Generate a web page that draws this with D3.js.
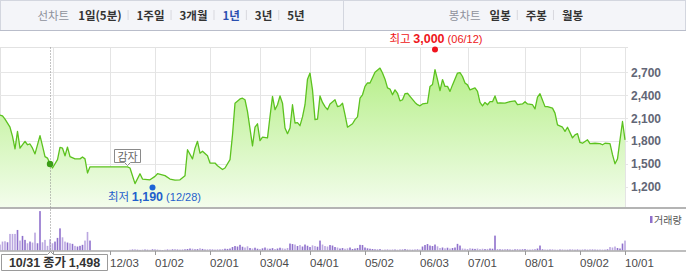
<!DOCTYPE html>
<html>
<head>
<meta charset="utf-8">
<script src="https://cdn.jsdelivr.net/npm/d3@7/dist/d3.min.js"></script>
<style>
body{margin:0;background:#fff;}
svg{display:block;font-family:"Noto Sans CJK KR","Liberation Sans",sans-serif;}
</style>
</head>
<body>
<div class="c_chart"></div>
<script>
/* DATA
------------------------------------------------------ */
// trading-day index (0 = first day shown) and closing price at that day
const priceDays = [0,1,2,4,5,6,7,8,10,11,12,13,14,16,17,18,19,20,21,23,24,25,26,27,28,30,32,33,34,35,36,51,52,54,56,57,60,62,63,66,68,70,72,74,75,77,78,79,80,81,83,84,86,87,89,90,92,93,94,96,97,98,99,101,102,103,104,105,107,108,109,110,111,112,113,114,115,116,117,118,119,120,121,122,123,124,125,126,127,128,129,130,131,132,134,135,136,137,138,139,141,142,143,144,145,146,147,148,150,152,153,154,155,156,157,158,159,160,161,162,163,164,166,167,168,169,171,172,173,174,175,176,177,178,179,180,181,183,184,185,186,187,188,190,191,192,193,194,195,196,197,198,199,200,202,204,206,207,209,210,211,213,214,215,216,218,219,221,222,223,225,226,227,229,230,231,232,233,235,236,238,240,241,242,244,245,246,247,248,249,250];
const priceCloses = [2140,2130,2085,1980,1860,1695,1925,1705,1795,1750,1760,1705,1630,1870,1735,1595,1575,1498,1445,1555,1715,1705,1605,1720,1595,1565,1565,1590,1565,1380,1460,1460,1445,1240,1370,1300,1290,1335,1370,1345,1300,1285,1290,1345,1685,1565,1705,1795,1640,1665,1605,1510,1510,1475,1425,1445,1555,1880,2295,2350,2360,2340,2185,1735,1980,2025,1805,1850,1840,2120,2385,2210,2275,2390,2295,1970,1895,1970,2275,2035,2040,2000,2115,2275,2610,2690,2470,2080,2085,2390,2305,2250,2210,2285,2340,2250,2260,2295,2145,1980,2025,2080,2115,2360,2405,2515,2560,2560,2700,2755,2690,2610,2495,2480,2405,2470,2425,2325,2340,2420,2425,2385,2305,2275,2260,2285,2295,2515,2540,2735,2605,2460,2605,2515,2515,2450,2535,2690,2695,2645,2560,2535,2470,2495,2450,2305,2260,2305,2275,2315,2315,2390,2295,2300,2295,2315,2325,2275,2285,2315,2285,2275,2220,2375,2420,2250,2250,2230,2165,2010,1980,1925,1980,1840,1880,1895,1780,1770,1815,1765,1770,1765,1750,1770,1765,1620,1500,1565,1815,2055,1815];

// daily volume (thousand shares), one value per trading day 0..250
const volumes = [60,90,93,83,167,167,167,207,100,147,107,73,90,80,180,73,397,83,107,47,113,73,90,127,223,133,90,80,73,67,47,40,47,57,100,187,100,
  0,0,0,0,0,0,0,0,0,0,0,0,0,0,0,
  8,10,12,8,6,9,10,8,7,12,10,8,6,5,8,10,9,12,14,10,8,9,12,
  15,20,18,12,14,22,16,10,12,14,10,8,12,10,14,18,16,20,
  35,45,40,57,38,30,42,
  25,20,28,18,15,22,30,20,18,24,15,20,28,22,18,25,
  70,65,60,45,
  55,40,60,48,35,52,45,38,100,
  60,45,40,55,50,35,30,
  20,25,18,22,30,15,20,25,57,55,30,22,18,15,
  12,10,14,8,10,12,9,11,10,8,12,10,14,9,10,8,12,15,10,
  40,55,65,50,45,60,42,
  25,30,22,28,20,25,30,
  67,50,
  20,18,15,22,18,16,20,15,18,14,16,20,18,
  150,
  15,12,10,14,12,10,8,12,15,10,12,14,10,8,12,15,20,
  50,
  12,10,8,10,12,9,8,10,11,9,8,10,12,8,10,9,11,10,8,12,10,9,8,10,9,8,12,
  35,30,40,25,20,70,100];

const tickDays = [21,44,62,84,104,124,146,168,187,210,232,250];
const tickLabels = ["11/01","12/03","01/02","02/01","03/04","04/01","05/02","06/03","07/01","08/01","09/02","10/01"];
const priceTicks = [1200,1500,1800,2100,2400,2700];

const periodLabels = ["1일(5분)","1주일","3개월","1년","3년","5년"];
const candleLabels = ["일봉","주봉","월봉"];

const highDay = 174, highValue = 3000, highDate = "06/12";
const lowDay = 61, lowValue = 1190, lowDate = "12/28";
const cursorDay = 20, cursorValue = 1498, cursorDate = "10/31";
const noteDay = 51, noteText = "감자";

/* SVG
------------------------------------------------------ */
const width = 686, height = 275;
const svg = d3.select(".c_chart").append("svg")
	.attr("width", width)
	.attr("height", height);

const fmt = d3.format(",");

const x = d3.scaleLinear().domain([0, 250]).range([0, 625]);
const y = d3.scaleLinear().domain([1200, 2700]).range([186.7, 72.3]);
const yv = d3.scaleLinear().domain([0, 400]).range([250.5, 210.8]);
const plotTop = 47.5, plotBottom = 207, plotRight = 628;
const boxRight = 107.5;

/* HEADER */
svg.append("rect")
	.attr("x", 0.5).attr("y", 0.5).attr("width", width - 1).attr("height", 30)
	.attr("fill", "#f4f5f9").attr("stroke", "#d3d6df");
svg.append("line")
	.attr("x1", 0).attr("x2", width).attr("y1", 30.5).attr("y2", 30.5)
	.attr("stroke", "#b9bdca");
svg.append("line")
	.attr("x1", 343.5).attr("x2", 343.5).attr("y1", 1).attr("y2", 30)
	.attr("stroke", "#d3d6df");

function menu(title, labels, selected, center) {
	const g = svg.append("g");
	let cx = 0;
	const t = g.append("text").attr("x", cx).attr("y", 19.5)
		.attr("font-size", 11.5).attr("fill", "#8f929c").text(title);
	cx += t.node().getComputedTextLength() + 9;
	labels.forEach(function(l, i) {
		if (i > 0) {
			g.append("line").attr("x1", cx - 8.5).attr("x2", cx - 8.5)
				.attr("y1", 10).attr("y2", 20).attr("stroke", "#d8d8de");
		}
		const tt = g.append("text").attr("x", cx).attr("y", 19.5)
			.attr("font-size", 11.5).attr("font-weight", "bold")
			.attr("fill", l === selected ? "#2a4fb0" : "#333")
			.text(l);
		cx += tt.node().getComputedTextLength() + 15;
	});
	const w = cx - 15;
	g.attr("transform", "translate(" + (center - w / 2) + ",0)");
}
menu("선차트", periodLabels, "1년", 171);
menu("봉차트", candleLabels, null, 516);

/* GRID */
const defs = svg.append("defs");
const grad = defs.append("linearGradient").attr("id", "fillG")
	.attr("gradientUnits", "userSpaceOnUse")
	.attr("x1", 0).attr("x2", 0).attr("y1", 60).attr("y2", plotBottom);
grad.append("stop").attr("offset", 0).attr("stop-color", "#b3ee84");
grad.append("stop").attr("offset", 1).attr("stop-color", "#f3fdec");

svg.append("line").attr("x1", 0).attr("x2", plotRight)
	.attr("y1", plotTop).attr("y2", plotTop).attr("stroke", "#e2e2e2");
svg.append("line").attr("x1", 0.5).attr("x2", 0.5)
	.attr("y1", plotTop).attr("y2", plotBottom).attr("stroke", "#e2e2e2");

svg.append("g").selectAll("line")
	.data(priceTicks).enter().append("line")
	.attr("x1", 0).attr("x2", plotRight)
	.attr("y1", d => Math.round(y(d)) + 0.5).attr("y2", d => Math.round(y(d)) + 0.5)
	.attr("stroke", "#e6e6e6");

svg.append("g").selectAll("line")
	.data(tickDays).enter().append("line")
	.attr("x1", d => Math.round(x(d)) + 0.5).attr("x2", d => Math.round(x(d)) + 0.5)
	.attr("y1", plotTop).attr("y2", plotBottom)
	.attr("stroke", "#e4e4e4");

/* AREA + LINE */
const pts = priceDays.map((d, i) => [d, priceCloses[i]]);
svg.append("path")
	.datum(pts)
	.attr("d", d3.area().x(d => x(d[0])).y0(plotBottom).y1(d => y(d[1])))
	.attr("fill", "url(#fillG)");
svg.append("path")
	.datum(pts)
	.attr("d", d3.line().x(d => x(d[0])).y(d => y(d[1])))
	.attr("fill", "none").attr("stroke", "#5cc21f").attr("stroke-width", 1.3)
	.attr("stroke-linejoin", "round");

/* Y AXIS LABELS */
svg.append("g").selectAll("text")
	.data(priceTicks).enter().append("text")
	.attr("x", 631).attr("y", d => y(d) + 4.5)
	.attr("font-family", "'Liberation Sans',sans-serif")
	.attr("font-size", 12).attr("font-weight", "bold")
	.attr("fill", "#626676")
	.text(d => fmt(d));

/* SEPARATORS */
svg.append("line").attr("x1", 0).attr("x2", width)
	.attr("y1", 208).attr("y2", 208).attr("stroke", "#b4b4b4").attr("stroke-width", 2);

/* VOLUME */
function priceCloseAt(day) {
	// closing price at a day, taken from the last listed day not after it
	let v = priceCloses[0];
	for (let i = 0; i < priceDays.length && priceDays[i] <= day; i++) v = priceCloses[i];
	return v;
}

svg.append("g").selectAll("rect")
	.data(volumes).enter().append("rect")
	.attr("x", (d, i) => x(i) - 0.8)
	.attr("width", 1.6)
	.attr("y", d => yv(d))
	.attr("height", d => yv(0) - yv(d))
	.attr("fill", (d, i) => i > 0 && priceCloseAt(i) >= priceCloseAt(i - 1) ? "#8f70cc" : "#bba7e0");

svg.append("line").attr("x1", 0).attr("x2", width)
	.attr("y1", 251).attr("y2", 251).attr("stroke", "#a8a8a8").attr("stroke-width", 1.5);

svg.append("g").selectAll("line")
	.data(tickDays).enter().append("line")
	.attr("x1", d => Math.round(x(d)) + 0.5).attr("x2", d => Math.round(x(d)) + 0.5)
	.attr("y1", 251).attr("y2", 255)
	.attr("stroke", "#999");

// labels hidden behind the close-price box are not drawn
svg.append("g").selectAll("text")
	.data(tickDays.filter(d => x(d) > boxRight)).enter().append("text")
	.attr("x", d => Math.round(x(d)))
	.attr("y", 266.5)
	.attr("font-family", "'Liberation Sans',sans-serif")
	.attr("font-size", 11.5).attr("fill", "#4a4a4a")
	.text(d => tickLabels[tickDays.indexOf(d)]);

svg.append("rect").attr("x", 650).attr("y", 216).attr("width", 2.5).attr("height", 7)
	.attr("fill", "#8f70cc");
svg.append("text").attr("x", 654).attr("y", 223.5)
	.attr("font-size", 10).attr("fill", "#555").text("거래량");

/* HIGH / LOW */
svg.append("circle").attr("cx", x(highDay)).attr("cy", y(highValue)).attr("r", 3)
	.attr("fill", "#f0141e");
const ht = svg.append("text").attr("x", x(highDay) + 1).attr("y", 42.5)
	.attr("text-anchor", "middle").attr("font-size", 11.5).attr("fill", "#ee1620");
ht.append("tspan").text("최고 ");
ht.append("tspan").attr("font-weight", "bold").attr("font-family", "'Liberation Sans',sans-serif").attr("font-size", 12.5).text(fmt(highValue));
ht.append("tspan").attr("font-family", "'Liberation Sans',sans-serif").attr("font-size", 11).text(" (" + highDate + ")");

svg.append("circle").attr("cx", x(lowDay)).attr("cy", y(lowValue)).attr("r", 3)
	.attr("fill", "#1c64d6");
const lt = svg.append("text").attr("x", x(lowDay) + 2).attr("y", 201)
	.attr("text-anchor", "middle").attr("font-size", 11.5).attr("fill", "#1f5fcc");
lt.append("tspan").text("최저 ");
lt.append("tspan").attr("font-weight", "bold").attr("font-family", "'Liberation Sans',sans-serif").attr("font-size", 12.5).text(fmt(lowValue));
lt.append("tspan").attr("font-family", "'Liberation Sans',sans-serif").attr("font-size", 11).text(" (" + lowDate + ")");

/* NOTE (감자) */
const nx = x(noteDay);
const ng = svg.append("g");
ng.append("path")
	.attr("d", `M${nx - 13},149.5 H${nx + 13} V162.5 H${nx + 3} L${nx},165.5 L${nx - 3},162.5 H${nx - 13} Z`)
	.attr("fill", "#fff").attr("stroke", "#8a8a8a");
ng.append("text").attr("x", nx).attr("y", 160.5).attr("text-anchor", "middle")
	.attr("font-size", 11).attr("fill", "#666").text(noteText);

/* CURSOR */
const cx0 = Math.round(x(cursorDay)) + 0.5;
svg.append("line").attr("x1", cx0).attr("x2", cx0).attr("y1", plotTop).attr("y2", 254)
	.attr("stroke", "#888").attr("stroke-dasharray", "1,2");
svg.append("circle").attr("cx", x(cursorDay)).attr("cy", y(cursorValue)).attr("r", 3.2)
	.attr("fill", "#3c9e18");

svg.append("path")
	.attr("d", `M1.5,254.5 H${cx0 - 3} L${cx0},251.5 L${cx0 + 3},254.5 H${boxRight} V270.5 H1.5 Z`)
	.attr("fill", "#fff").attr("stroke", "#9a9a9a");
const tt = svg.append("text").attr("x", 54.5).attr("y", 267).attr("text-anchor", "middle")
	.attr("font-size", 12.5).attr("fill", "#333").attr("font-weight", "bold");
tt.append("tspan").attr("font-family", "'Liberation Sans',sans-serif").text(cursorDate);
tt.append("tspan").text("\u00a0종가\u00a0");
tt.append("tspan").attr("font-family", "'Liberation Sans',sans-serif").text(fmt(cursorValue));
</script>
</body>
</html>
